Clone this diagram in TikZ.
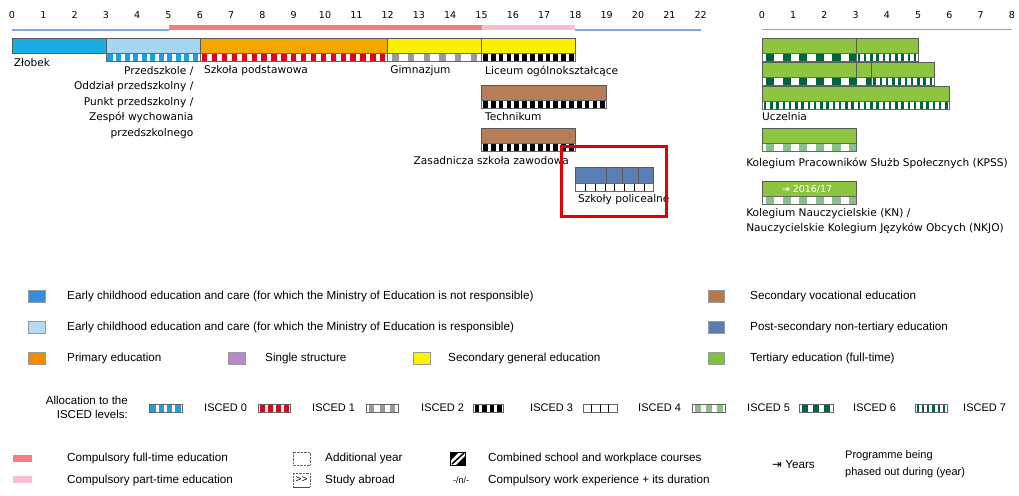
\documentclass[tikz,border=0pt]{standalone}
\usepackage{fontspec}
\setmainfont{Liberation Sans}
\newfontfamily\dejavu{DejaVu Sans}
\usetikzlibrary{positioning}

\definecolor{zlobekblue}{HTML}{1AADE4}
\definecolor{preblue}{HTML}{A5D7F0}
\definecolor{primorange}{HTML}{F5A700}
\definecolor{genyellow}{HTML}{FAF000}
\definecolor{vocbrown}{HTML}{B57E57}
\definecolor{postblue}{HTML}{5C7DB4}
\definecolor{tertgreen}{HTML}{8DC540}
\definecolor{legblue}{HTML}{2E90DF}
\definecolor{leglight}{HTML}{B3DCF2}
\definecolor{legorange}{HTML}{F18A00}
\definecolor{legpurple}{HTML}{B888C8}
\definecolor{legyellow}{HTML}{FFF200}
\definecolor{legbrown}{HTML}{B77B4B}
\definecolor{leggreen}{HTML}{80C13E}
\definecolor{iscblue}{HTML}{1E9FE0}
\definecolor{iscred}{HTML}{E3001B}
\definecolor{iscgray}{HTML}{9A9A9A}
\definecolor{iscpale}{HTML}{88C088}
\definecolor{iscdark}{HTML}{00663A}
\definecolor{compred}{HTML}{F27E7E}
\definecolor{comppink}{HTML}{F7BFCC}
\definecolor{axisblue}{HTML}{7FA9DE}
\definecolor{redbox}{HTML}{E30000}

\tikzset{
  edubar/.style={draw=black!65, line width=0.5pt},
  stripframe/.style={draw=black!60, line width=0.5pt},
  lbl/.style={font=\dejavu\fontsize{10.6}{15.5}\selectfont, inner sep=0pt},
  ticklbl/.style={font=\dejavu\fontsize{9.5}{10}\selectfont, inner sep=0pt},
  legtext/.style={font=\fontsize{11.7}{17}\selectfont, anchor=west, inner sep=0pt},
  iscedtext/.style={font=\fontsize{11}{13}\selectfont, anchor=west, inner sep=0pt},
  swatch/.style={draw=black!40, line width=0.4pt},
  isc0/.style={fill=iscblue},
  isc1/.style={fill=iscred},
  isc2/.style={fill=iscgray},
  isc3/.style={fill=black},
  isc4/.style={draw=black, fill=white, line width=0.5pt},
  isc5/.style={fill=iscpale},
  isc6/.style={fill=iscdark},
  isc7/.style={fill=iscdark},
}

% strip of ISCED blocks: x1, x2, top, block style, period, block width
\newcommand{\iscedstrip}[6]{%
  \begin{scope}
    \clip (#1,#3) rectangle (#2,#3+8);
    \fill[white] (#1,#3) rectangle (#2,#3+8);
    \pgfmathtruncatemacro\nblk{(#2-#1)/#5}
    \foreach \i in {0,...,\nblk}
      \path[#4] ({#1+(\i+0.5)*#5-0.5*#6},#3) rectangle ++(#6,8);
  \end{scope}
  \draw[stripframe] (#1,#3) rectangle (#2,#3+8);
}

\begin{document}
\begin{tikzpicture}[x=1pt,y=-1pt]
    \useasboundingbox (0,0) rectangle (1019,495);

    % Main timeline, ages 0 to 22
    \begin{scope}[xshift=12pt, x=31.3pt]
    \foreach \k in {0,...,22}
        \node[ticklbl] (age\k) at (\k,15) {\k};
    \draw[axisblue, line width=1.2pt] (0,30) -- (5,30);
    \draw[axisblue, line width=1.2pt] (18,30) -- (22,30);
    \fill[compred] (5,25.5) rectangle (15,30);
    \fill[comppink] (15,25.5) rectangle (18,30);

    % First row
    \draw[edubar, fill=zlobekblue] (0,38) rectangle (3,53);
    \draw[edubar, fill=preblue] (3,38) rectangle (6,53);
    \draw[edubar, fill=primorange] (6,38) rectangle (12,53);
    \draw[edubar, fill=genyellow] (12,38) rectangle (15,53);
    \draw[edubar, fill=genyellow] (15,38) rectangle (18,53);
    \iscedstrip{3}{6}{53}{isc0}{0.272}{0.17}
    \iscedstrip{6}{12}{53}{isc1}{0.316}{0.17}
    \iscedstrip{12}{15}{53}{isc2}{0.5}{0.2}
    \iscedstrip{15}{18}{53}{isc3}{0.25}{0.15}

    % Vocational and post-secondary
    \draw[edubar, fill=vocbrown] (15,85) rectangle (19,100);
    \iscedstrip{15}{19}{100}{isc3}{0.25}{0.15}
    \draw[edubar, fill=vocbrown] (15,128) rectangle (18,143);
    \iscedstrip{15}{18}{143}{isc3}{0.25}{0.15}
    \draw[edubar, fill=postblue] (18,167) rectangle (20.5,183);
    \draw[edubar] (19,167) -- (19,183);
    \draw[edubar] (19.5,167) -- (19.5,183);
    \draw[edubar] (20,167) -- (20,183);
    \iscedstrip{18}{20.5}{183}{isc4}{0.3125}{0.3125}

    \node[lbl, anchor=west] (zlobek) at (0.05,63) {Złobek};
    \node[lbl, anchor=north east, align=right] (przedszkole) at (5.8,66)
        {Przedszkole /\\Oddział przedszkolny /\\Punkt przedszkolny /\\Zespół wychowania\\przedszkolnego};
    \node[lbl, anchor=west] (podstawowa) at (6.13,71) {Szkoła podstawowa};
    \node[lbl, anchor=west] (gimnazjum) at (12.08,71) {Gimnazjum};
    \node[lbl, anchor=west] (liceum) at (15.11,71) {Liceum ogólnokształcące};
    \node[lbl, anchor=west] (technikum) at (15.11,117) {Technikum};
    \node[lbl, anchor=east] (zasadnicza) at (17.8,161) {Zasadnicza szkoła zawodowa};
    \node[lbl, anchor=west] (policealne) at (18.08,200) {Szkoły policealne};
    \end{scope}

    % Tertiary timeline, years 0 to 8
    \begin{scope}[xshift=762pt, x=31.25pt]
    \foreach \k in {0,...,8}
        \node[ticklbl] (year\k) at (\k,15) {\k};
    \draw[axisblue, line width=1.2pt] (0,29.5) -- (8,29.5);

    \draw[edubar, fill=tertgreen] (0,38) rectangle (3,53);
    \draw[edubar, fill=tertgreen] (3,38) rectangle (5,53);
    \iscedstrip{0}{3}{53}{isc6}{0.53}{0.26}
    \iscedstrip{3}{5}{53}{isc7}{0.2}{0.08}

    \draw[edubar, fill=tertgreen] (0,62) rectangle (3,77);
    \draw[edubar, fill=tertgreen] (3,62) rectangle (3.5,77);
    \draw[edubar, fill=tertgreen] (3.5,62) rectangle (5.5,77);
    \iscedstrip{0}{3.5}{77}{isc6}{0.53}{0.26}
    \iscedstrip{3.5}{5.5}{77}{isc7}{0.2}{0.08}

    \draw[edubar, fill=tertgreen] (0,86) rectangle (6,101);
    \iscedstrip{0}{6}{101}{isc7}{0.2}{0.08}

    \draw[edubar, fill=tertgreen] (0,128) rectangle (3,143);
    \iscedstrip{0}{3}{143}{isc5}{0.53}{0.26}
    \draw[edubar, fill=tertgreen] (0,181) rectangle (3,196);
    \iscedstrip{0}{3}{196}{isc5}{0.53}{0.26}
    \node[font=\dejavu\fontsize{9.5}{10}\selectfont, text=white, inner sep=0pt] (phaseout) at (1.44,189) {⇥ 2016/17};

    \node[lbl, anchor=west] (uczelnia) at (0,117) {Uczelnia};
    \node[lbl, anchor=west] (kpss) at (-0.51,163) {Kolegium Pracowników Służb Społecznych (KPSS)};
    \node[lbl, anchor=north west, align=left] (kn) at (-0.51,208)
        {Kolegium Nauczycielskie (KN) /\\Nauczycielskie Kolegium Języków Obcych (NKJO)};
    \end{scope}

    % Highlight
    \draw[redbox, line width=3pt] (561,146) rectangle (666,216);

    % Legend: colours
    \draw[swatch, fill=legblue] (28,290) rectangle (45,302);
    \node[legtext] (ecec-not) at (67,296) {Early childhood education and care (for which the Ministry of Education is not responsible)};
    \draw[swatch, fill=leglight] (28,321) rectangle (45,333);
    \node[legtext] (ecec-min) at (67,327) {Early childhood education and care (for which the Ministry of Education is responsible)};
    \draw[swatch, fill=legorange] (28,352) rectangle (45,364);
    \node[legtext] (primary) at (67,358) {Primary education};
    \draw[swatch, fill=legpurple] (228,352) rectangle (245,364);
    \node[legtext] (single) at (265,358) {Single structure};
    \draw[swatch, fill=legyellow] (413,352) rectangle (430,364);
    \node[legtext] (secgen) at (448,358) {Secondary general education};
    \draw[swatch, fill=legbrown] (708,290) rectangle (724,302);
    \node[legtext] (secvoc) at (750,296) {Secondary vocational education};
    \draw[swatch, fill=postblue] (708,321) rectangle (724,333);
    \node[legtext] (postsec) at (750,327) {Post-secondary non-tertiary education};
    \draw[swatch, fill=leggreen] (708,352) rectangle (724,364);
    \node[legtext] (tertiary) at (750,358) {Tertiary education (full-time)};

    % Legend: ISCED levels
    \node[iscedtext, anchor=east, align=right, font=\fontsize{11.5}{14}\selectfont] (alloc) at (128,407)
        {Allocation to the\\ISCED levels:};
    \iscedstrip{149}{182}{404}{isc0}{8.25}{5.5}
    \node[iscedtext] (isced0) at (204,408) {ISCED 0};
    \iscedstrip{258}{290}{404}{isc1}{8}{5}
    \node[iscedtext] (isced1) at (312,408) {ISCED 1};
    \iscedstrip{366}{398}{404}{isc2}{10.7}{5}
    \node[iscedtext] (isced2) at (421,408) {ISCED 2};
    \iscedstrip{473}{503}{404}{isc3}{7.5}{4.5}
    \node[iscedtext] (isced3) at (530,408) {ISCED 3};
    \iscedstrip{583}{617}{404}{isc4}{8.5}{8.5}
    \node[iscedtext] (isced4) at (638,408) {ISCED 4};
    \iscedstrip{692}{725}{404}{isc5}{11}{6}
    \node[iscedtext] (isced5) at (747,408) {ISCED 5};
    \iscedstrip{799}{833}{404}{isc6}{11.3}{6}
    \node[iscedtext] (isced6) at (853,408) {ISCED 6};
    \iscedstrip{915}{947}{404}{isc7}{5.3}{2.2}
    \node[iscedtext] (isced7) at (963,408) {ISCED 7};

    % Legend: other symbols
    \fill[compred] (13,455) rectangle (32,462);
    \node[legtext] (compfull) at (67,458) {Compulsory full-time education};
    \fill[comppink] (13,476) rectangle (32,483);
    \node[legtext] (comppart) at (67,480) {Compulsory part-time education};

    \draw[black!60, densely dotted] (293,452) rectangle (310,465);
    \node[legtext] (addyear) at (325,458) {Additional year};
    \draw[black!60, densely dotted] (293,473) -- (293,487) (310,473) -- (310,487) (293,473) -- (310,473);
    \draw[black!70] (293,487) -- (310,487);
    \node[font=\fontsize{10}{10}\selectfont, inner sep=0pt] (abroadsign) at (301.5,479.5) {>{}>};
    \node[legtext] (abroad) at (325,480) {Study abroad};

    \draw[black, line width=0.8pt] (450,452) rectangle (465,465);
    \fill[black] (450,452) -- (459,452) -- (450,461) -- cycle;
    \fill[black] (465,465) -- (456,465) -- (465,456) -- cycle;
    \draw[black, line width=1.5pt] (452,464) -- (464,453);
    \node[legtext] (combined) at (488,458) {Combined school and workplace courses};
    \node[font=\fontsize{9}{10}\selectfont, inner sep=0pt] (worksign) at (461,480) {-/n/-};
    \node[legtext] (workexp) at (488,480) {Compulsory work experience + its duration};

    \node[legtext] (years) at (772,465) {{\dejavu ⇥} Years};
    \node[legtext, align=left, font=\fontsize{11}{17}\selectfont] (phased) at (845,464)
        {Programme being\\phased out during (year)};
\end{tikzpicture}
\end{document}
